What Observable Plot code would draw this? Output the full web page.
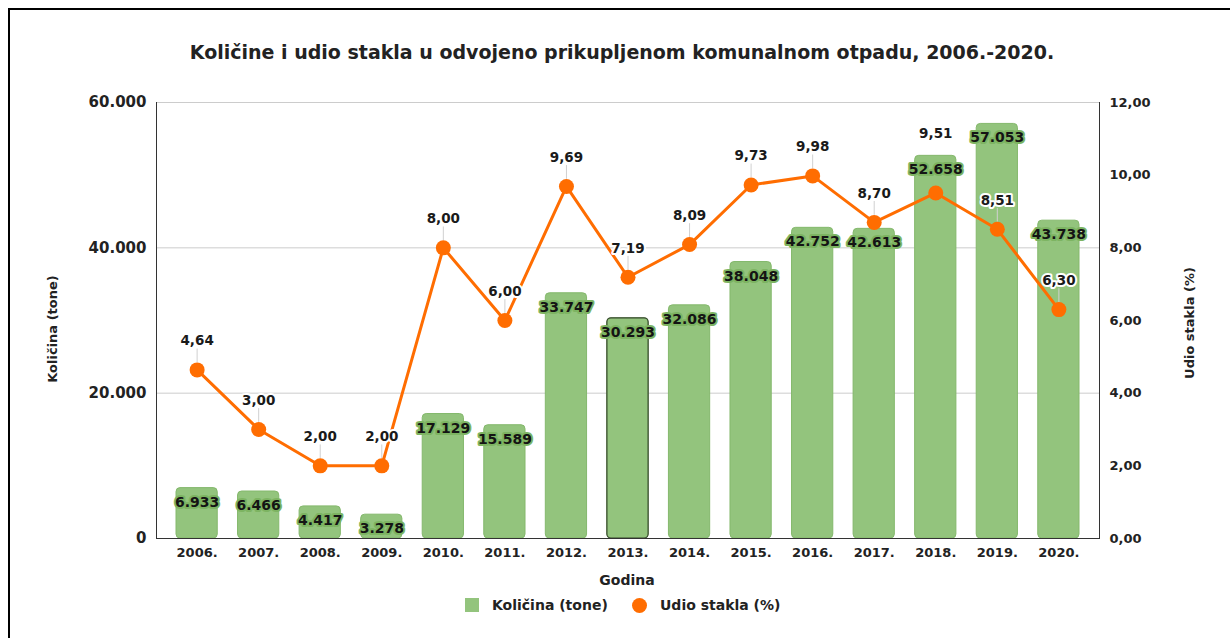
<!DOCTYPE html>
<html><head><meta charset="utf-8">
<script src="https://cdn.jsdelivr.net/npm/d3@7"></script>
<script src="https://cdn.jsdelivr.net/npm/@observablehq/plot@0.6"></script>
<style>
body{margin:0;background:#fff;font-family:"DejaVu Sans",sans-serif;}
#wrap{position:relative;width:1230px;height:638px;overflow:hidden;background:#fff;}
#border{position:absolute;left:8px;top:8px;width:1400px;height:800px;border-left:2px solid #000;border-top:2px solid #000;box-sizing:border-box;}
#title{position:absolute;left:0;width:1244px;top:40px;line-height:24px;text-align:center;font-weight:bold;font-size:19px;color:#222;}
#chart{position:absolute;left:0;top:80px;}
.ytitle{position:absolute;font-weight:bold;font-size:13px;color:#222;white-space:nowrap;transform:translate(-50%,-50%) rotate(-90deg);}
#xtitle{position:absolute;left:627px;top:580px;transform:translate(-50%,-50%);font-weight:bold;font-size:14px;color:#222;}
.leg{position:absolute;font-weight:bold;font-size:14px;color:#222;line-height:18px;top:596px;}
#sw1{position:absolute;left:465px;top:598px;width:14px;height:14px;background:#93c47d;}
#sw2{position:absolute;left:632px;top:598px;width:15px;height:15px;border-radius:50%;background:#ff6d01;}
</style></head>
<body>
<div id="wrap">
  <div id="border"></div>
  <div id="title">Količine i udio stakla u odvojeno prikupljenom komunalnom otpadu, 2006.-2020.</div>
  <div id="chart"></div>
  <div class="ytitle" style="left:52px;top:329px;">Količina (tone)</div>
  <div class="ytitle" style="left:1189px;top:323px;">Udio stakla (%)</div>
  <div id="xtitle">Godina</div>
  <div id="sw1"></div><div class="leg" style="left:492px;">Količina (tone)</div>
  <div id="sw2"></div><div class="leg" style="left:660px;">Udio stakla (%)</div>
</div>
<script>
const years = ["2006.","2007.","2008.","2009.","2010.","2011.","2012.","2013.","2014.","2015.","2016.","2017.","2018.","2019.","2020."];
const kolicina = [6933, 6466, 4417, 3278, 17129, 15589, 33747, 30293, 32086, 38048, 42752, 42613, 52658, 57053, 43738];
const udio = [4.64, 3.00, 2.00, 2.00, 8.00, 6.00, 9.69, 7.19, 8.09, 9.73, 9.98, 8.70, 9.51, 8.51, 6.30];
const leftTicks = [0, 20000, 40000, 60000];
const rightTicks = [0, 2, 4, 6, 8, 10, 12];

const data = years.map((y, i) => ({year: y, kol: kolicina[i], pct: udio[i]}));
const K = 60000 / 12; // maps the right (%) axis onto the left scale
const fmtK = d => d3.format(",")(d).replace(/,/g, ".");
const fmtP = d => d.toFixed(2).replace(".", ",");
const GREEN = "#93c47d", ORANGE = "#ff6d01";
const lifted = new Set(["2018."]);

const leader = {draw(ctx, l) { ctx.moveTo(0, 0); ctx.lineTo(0, -l); }};

const chart = Plot.plot({
  width: 1230, height: 520,
  marginTop: 22, marginBottom: 62, marginLeft: 156, marginRight: 131,
  style: {fontFamily: "DejaVu Sans", fontWeight: "bold", fontSize: "13px", color: "#222", background: "transparent"},
  x: {type: "band", domain: years, inset: 20, paddingInner: 0.33, paddingOuter: 0, round: false},
  y: {domain: [0, 60000]},
  marks: [
    Plot.gridY(leftTicks, {stroke: "#cccccc", strokeOpacity: 1}),
    Plot.barY(data, {x: "year", y: "kol", fill: GREEN, stroke: "#84b86c", strokeWidth: 1, rx: 4}),
    Plot.barY(data.filter(d => d.year === "2013."), {x: "year", y: "kol", fill: "none", stroke: "#3a4a30", strokeWidth: 1.2, rx: 4}),
    Plot.text(data, {x: "year", y: "kol", text: d => fmtK(d.kol), dy: 14, fill: "#141414", stroke: "#7db462", strokeWidth: 4, fontSize: 14, fontWeight: "bold"}),
    Plot.ruleY([0], {stroke: "#333"}),
    Plot.frame({anchor: "left", stroke: "#333"}),
    Plot.frame({anchor: "right", stroke: "#333"}),
    Plot.vector(data.filter(d => !lifted.has(d.year)), {x: "year", y: d => d.pct * K, length: 13, rotate: 0, anchor: "start", dy: -8, shape: leader, stroke: "#d0d0d0", strokeWidth: 1}),
    Plot.line(data, {x: "year", y: d => d.pct * K, stroke: ORANGE, strokeWidth: 3}),
    Plot.dot(data, {x: "year", y: d => d.pct * K, r: 7.5, fill: ORANGE, stroke: "none"}),
    Plot.text(data.filter(d => !lifted.has(d.year)), {x: "year", y: d => d.pct * K, text: d => fmtP(d.pct), dy: -29, fill: "#1a1a1a", stroke: "white", strokeWidth: 4, fontSize: 13.5, fontWeight: "bold"}),
    Plot.text(data.filter(d => lifted.has(d.year)), {x: "year", y: d => d.pct * K, text: d => fmtP(d.pct), dy: -59, fill: "#1a1a1a", stroke: "white", strokeWidth: 4, fontSize: 13.5, fontWeight: "bold"}),
    Plot.axisX({tickSize: 0, tickPadding: 9, label: null, fontSize: 13}),
    Plot.axisY(leftTicks, {anchor: "left", tickSize: 0, tickPadding: 10, tickFormat: fmtK, label: null, fontSize: 15}),
    Plot.axisY(rightTicks.map(v => v * K), {anchor: "right", tickSize: 0, tickPadding: 10, tickFormat: d => fmtP(d / K), label: null, fontSize: 13})
  ]
});
document.getElementById("chart").appendChild(chart);
</script>
</body></html>
